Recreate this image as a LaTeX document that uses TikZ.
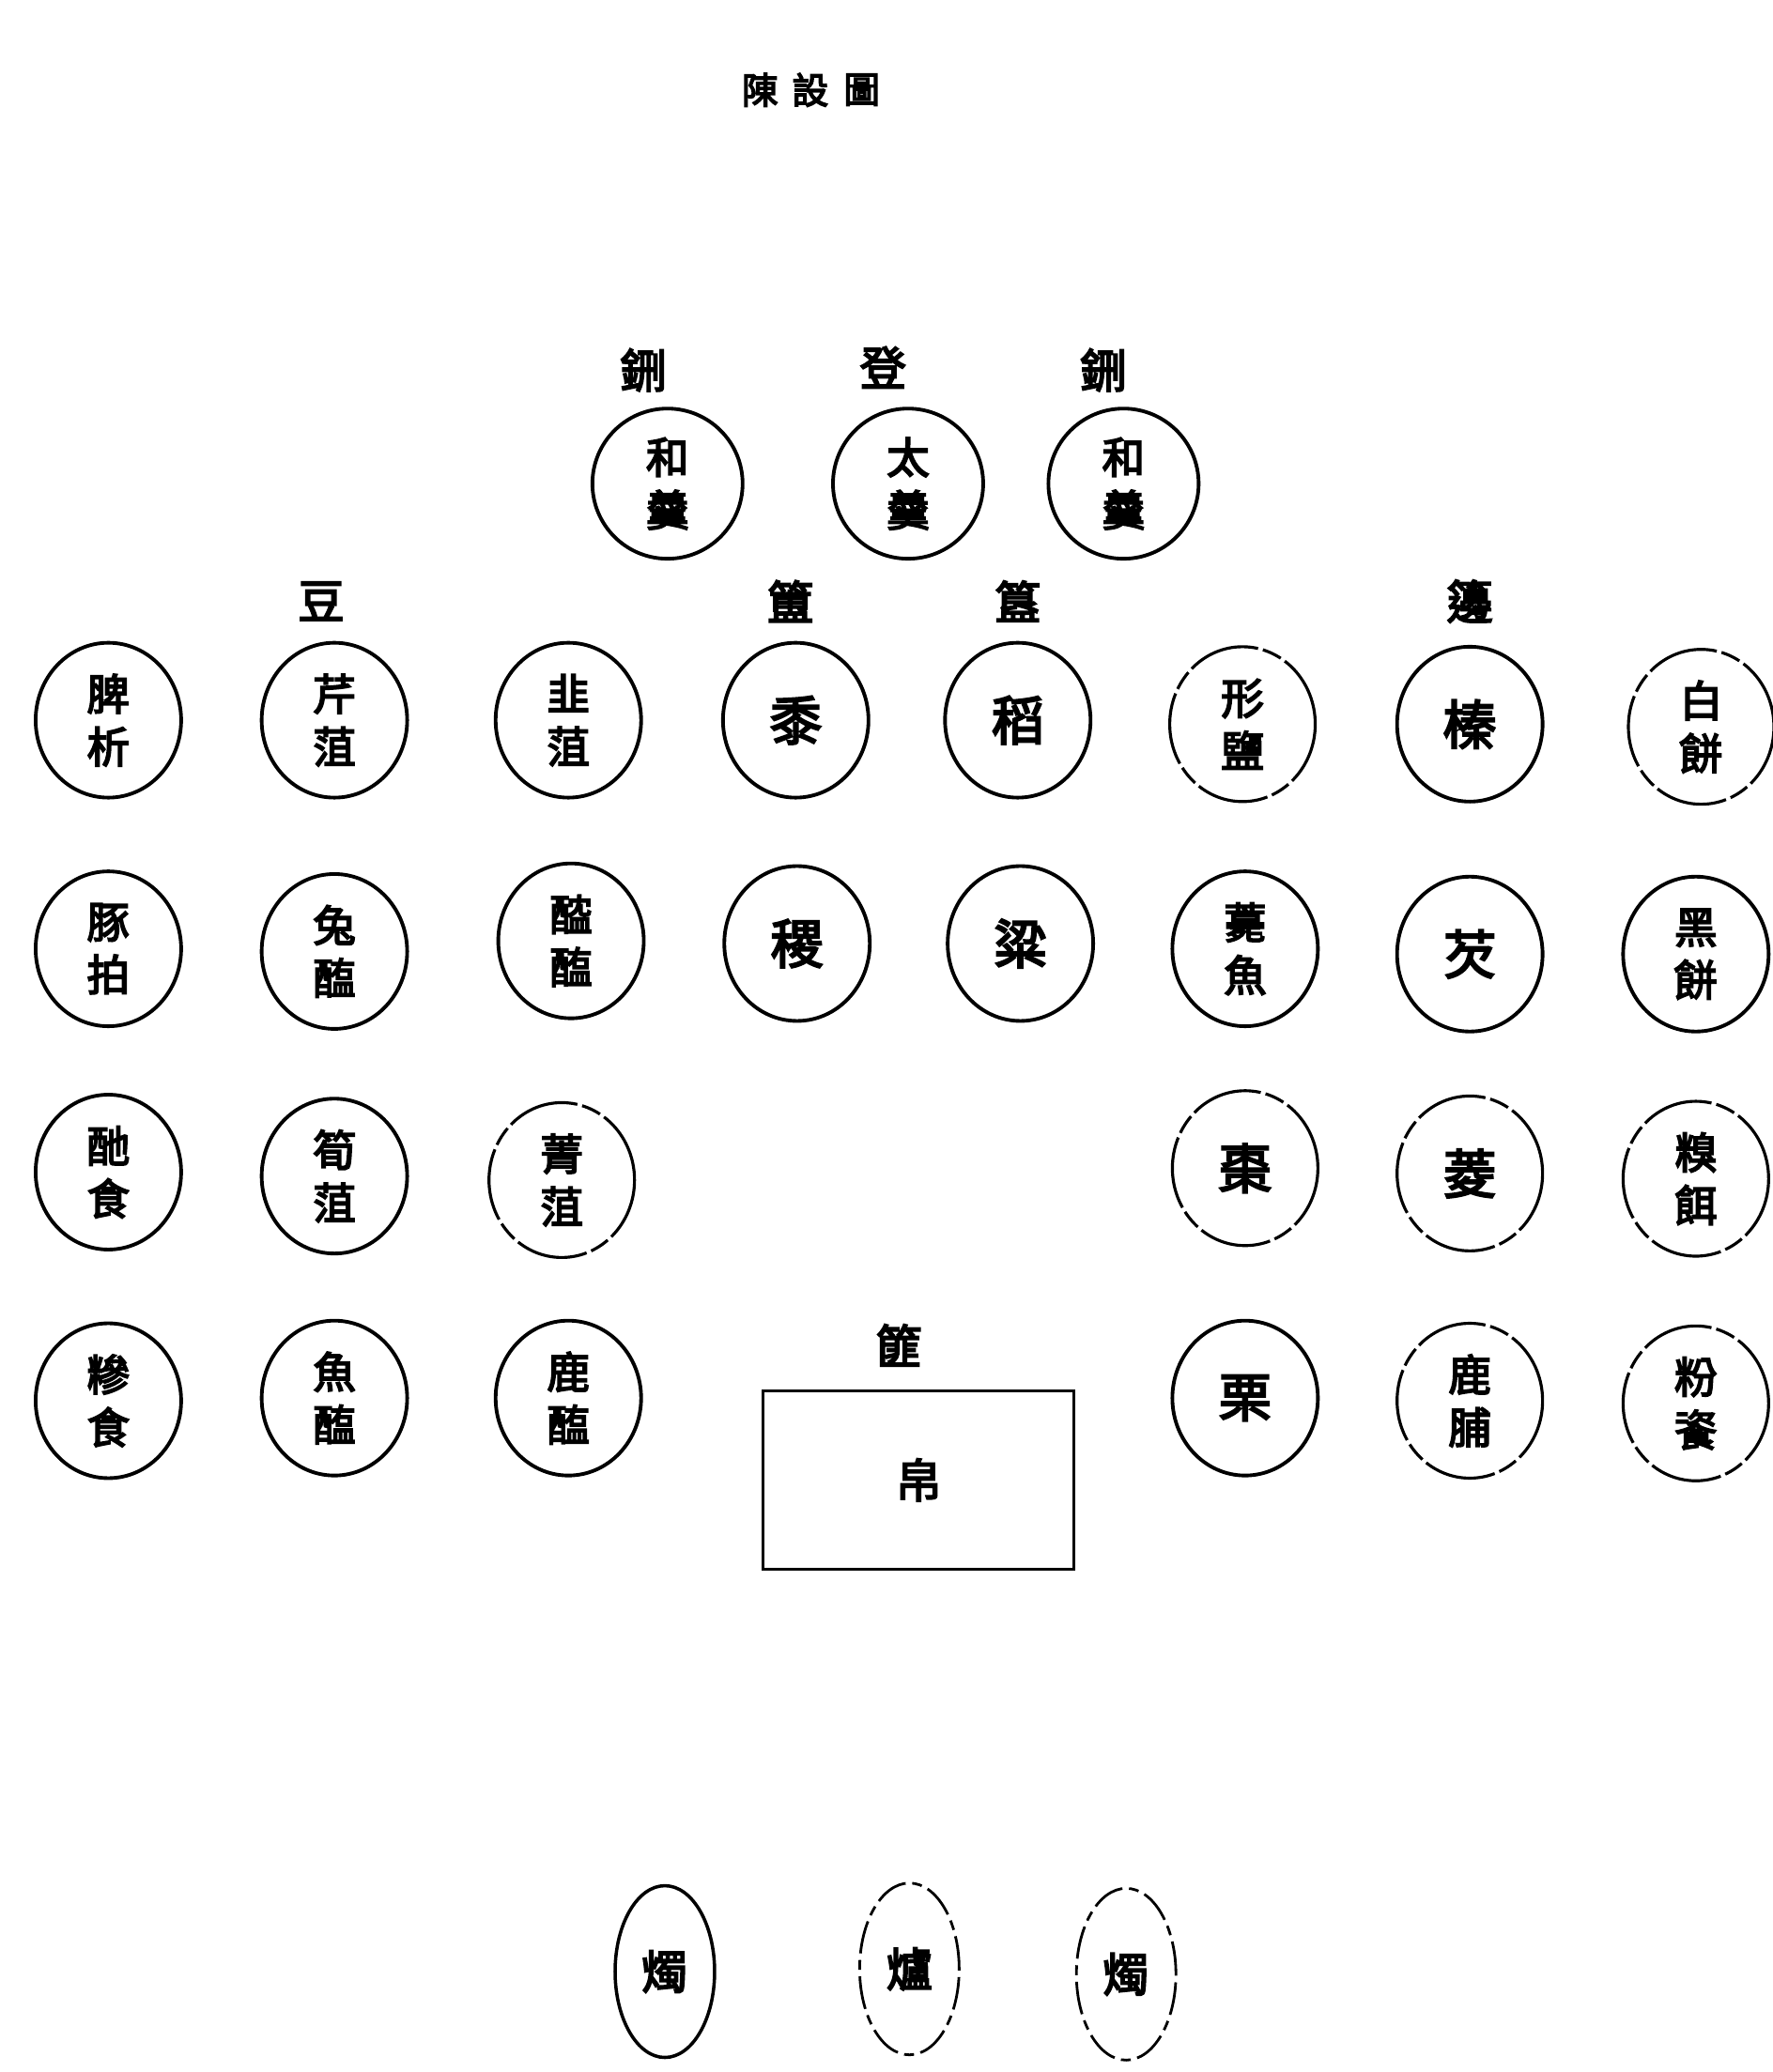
\documentclass[tikz,border=0pt]{standalone}
\usepackage{fontspec}
\newfontfamily\cjk[FakeBold=4]{Noto Sans CJK TC}
\usetikzlibrary{shapes.geometric}
\begin{document}
\begin{tikzpicture}[x=0.1408mm,y=-0.1408mm,
  dish/.style={draw,ellipse,line width=1.1pt,inner sep=0pt,minimum width=15.5mm,minimum height=16.5mm,align=center,font=\cjk\fontsize{13pt}{16pt}\selectfont},
  dishb/.style={dish,line width=0.9pt,dash pattern=on 22pt off 1.5pt on 6pt off 1.5pt},
  topdish/.style={dish,minimum width=16mm,minimum height=16mm},
  oval/.style={draw,ellipse,line width=1pt,inner sep=0pt,minimum width=10.6mm,minimum height=18.3mm,font=\cjk\fontsize{14pt}{16pt}\selectfont},
  ovalb/.style={oval,line width=0.8pt,dash pattern=on 10pt off 2pt on 3pt off 2pt},
  one/.style={font=\cjk\fontsize{16pt}{18pt}\selectfont},
  lbl/.style={font=\cjk\fontsize{14pt}{16pt}\selectfont,inner sep=0pt},
  ttl/.style={font=\cjk\fontsize{11pt}{13pt}\selectfont,inner sep=0pt}]
\useasboundingbox (0,0) rectangle (1341,1568);
% title
\node[ttl] (t1) at (575,68) {陳};
\node[ttl] (t2) at (613,68) {設};
\node[ttl] (t3) at (652,68) {圖};
% top row
\node[lbl] (l1) at (487,280) {鉶};
\node[lbl] (l2) at (668,278) {登};
\node[lbl] (l3) at (835,280) {鉶};
\node[topdish] (k1) at (505,366) {和\\羹};
\node[topdish] (k2) at (687,366) {太\\羹};
\node[topdish] (k3) at (850,366) {和\\羹};
% group labels
\node[lbl] (gd) at (243,455) {豆};
\node[lbl] (gf) at (598,455) {簠};
\node[lbl] (gg) at (770,455) {簋};
\node[lbl] (gb) at (1112,455) {籩};
% row 1
\node[dish] (a1) at (82,545) {脾\\析};
\node[dish] (a2) at (253,545) {芹\\菹};
\node[dish] (a3) at (430,545) {韭\\菹};
\node[dish,one] (a4) at (602,545) {黍};
\node[dish,one] (a5) at (770,545) {稻};
\node[dishb] (a6) at (940,548) {形\\鹽};
\node[dish,one] (a7) at (1112,548) {榛};
\node[dishb] (a8) at (1287,550) {白\\餅};
% row 2
\node[dish] (b1) at (82,718) {豚\\拍};
\node[dish] (b2) at (253,720) {兔\\醢};
\node[dish] (b3) at (432,712) {醓\\醢};
\node[dish,one] (b4) at (603,714) {稷};
\node[dish,one] (b5) at (772,714) {粱};
\node[dish] (b6) at (942,718) {薧\\魚};
\node[dish,one] (b7) at (1112,722) {芡};
\node[dish] (b8) at (1283,722) {黑\\餅};
% row 3
\node[dish] (c1) at (82,887) {酏\\食};
\node[dish] (c2) at (253,890) {筍\\菹};
\node[dishb] (c3) at (425,893) {菁\\菹};
\node[dishb,one] (c6) at (942,884) {棗};
\node[dishb,one] (c7) at (1112,888) {菱};
\node[dishb] (c8) at (1283,892) {糗\\餌};
% row 4
\node[dish] (d1) at (82,1060) {糝\\食};
\node[dish] (d2) at (253,1058) {魚\\醢};
\node[dish] (d3) at (430,1058) {鹿\\醢};
\node[dish,one] (d6) at (942,1058) {栗};
\node[dishb] (d7) at (1112,1060) {鹿\\脯};
\node[dishb] (d8) at (1283,1062) {粉\\餈};
% basket
\node[lbl] (fei) at (680,1018) {篚};
\node[draw,line width=0.8pt,minimum width=33.1mm,minimum height=19mm,inner sep=0pt,font=\cjk\fontsize{14pt}{16pt}\selectfont] (bo) at (695,1120) {帛};
% bottom
\node[oval] (z1) at (503,1492) {燭};
\node[ovalb] (z2) at (688,1490) {爐};
\node[ovalb] (z3) at (852,1494) {燭};
\end{tikzpicture}
\end{document}
